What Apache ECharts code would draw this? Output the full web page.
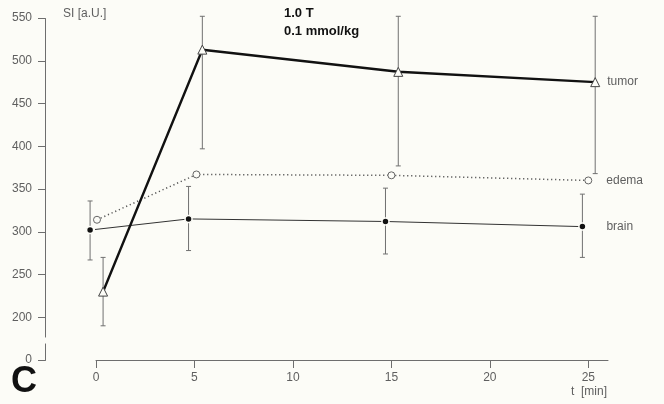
<!DOCTYPE html>
<html>
<head>
<meta charset="utf-8">
<script src="https://cdn.jsdelivr.net/npm/echarts@6/dist/echarts.min.js"></script>
<style>
html,body{margin:0;padding:0;background:#fcfcf7;}
#c{width:664px;height:404px;}
</style>
</head>
<body>
<div id="c"></div>
<script>
// ---- data ----
const xTicks = [0, 5, 10, 15, 20, 25];
const yTicks = [0, 200, 250, 300, 350, 400, 450, 500, 550];

// tumor (open triangles)
const tumorT   = [0.36, 5.4, 15.35, 25.35];
const tumorSI  = [230, 513, 487, 475];
const tumorLo  = [190, 397, 377, 368];
const tumorHi  = [270, 552, 552, 552];

// edema (open circles, dotted)
const edemaT   = [0.05, 5.1, 15.0, 25.0];
const edemaSI  = [314, 367, 366, 360];

// brain (filled dots)
const brainT   = [-0.3, 4.7, 14.7, 24.7];
const brainSI  = [302, 315, 312, 306];
const brainLo  = [267, 278, 274, 270];
const brainHi  = [336, 353, 351, 344];

const seriesNames = ['tumor', 'edema', 'brain'];

// ---- build ----
const zip = (a, b) => a.map((v, i) => [v, b[i]]);
const errData = tumorT.map((t, i) => [t, tumorLo[i], tumorHi[i]])
  .concat(brainT.map((t, i) => [t, brainLo[i], brainHi[i]]));

const gray = '#6e6e6e';
const txt = '#5f5f5f';
const bg = '#fcfcf7';
const FF = 'Liberation Sans, Arial, sans-serif';
const yBreaks = [{ start: 20, end: 177, gap: 7 }];

const chart = echarts.init(document.getElementById('c'));
chart.setOption({
  backgroundColor: bg,
  animation: false,
  grid: [
    { left: 45, right: 56, top: 18, bottom: 44 },
    { left: 96, right: 56, top: 18, bottom: 44 }
  ],
  xAxis: [
    { type: 'value', gridIndex: 0, min: 0, max: 26, show: false },
    {
      type: 'value', gridIndex: 1, min: 0, max: 26,
      axisLine: { show: true, lineStyle: { color: gray, width: 1 } },
      axisTick: { show: true, length: 8, lineStyle: { color: gray }, customValues: xTicks },
      axisLabel: { color: txt, fontSize: 12, fontFamily: FF, margin: 12, customValues: xTicks },
      splitLine: { show: false }
    }
  ],
  yAxis: [
    {
      type: 'value', gridIndex: 0, min: 0, max: 550, interval: 50,
      breaks: yBreaks,
      breakArea: { show: true, zigzagAmplitude: 0, itemStyle: { color: bg, borderColor: 'rgba(0,0,0,0)', borderWidth: 0, opacity: 1 } },
      axisLine: { show: true, lineStyle: { color: gray, width: 1 } },
      axisTick: { show: true, length: 7, lineStyle: { color: gray }, customValues: yTicks },
      axisLabel: { color: txt, fontSize: 12, fontFamily: FF, margin: 13, customValues: yTicks,
        formatter: v => (yTicks.indexOf(v) >= 0 ? String(v) : '') },
      splitLine: { show: false }
    },
    {
      type: 'value', gridIndex: 1, min: 0, max: 550, interval: 50,
      breaks: yBreaks,
      show: false,
      splitLine: { show: false }
    }
  ],
  graphic: [
    { type: 'text', left: 63, top: 8, style: { text: 'SI [a.U.]', fill: txt, font: '12px ' + FF } },
    { type: 'text', left: 284, top: 7, style: { text: '1.0 T', fill: '#111', font: 'bold 13px ' + FF } },
    { type: 'text', left: 284, top: 25, style: { text: '0.1 mmol/kg', fill: '#111', font: 'bold 13px ' + FF } },
    { type: 'text', left: 571, top: 386, style: { text: 't  [min]', fill: txt, font: '12px ' + FF } },
    { type: 'text', left: 11, top: 364, style: { text: 'C', fill: '#111', font: 'bold 36px ' + FF } }
  ],
  series: [
    {
      type: 'custom', name: 'err', clip: false, z: 1, xAxisIndex: 1, yAxisIndex: 1,
      data: errData,
      renderItem: (params, api) => {
        const x = api.value(0);
        const p1 = api.coord([x, api.value(2)]);
        const p2 = api.coord([x, api.value(1)]);
        const w = 2.5;
        const st = { stroke: '#707070', lineWidth: 1 };
        return { type: 'group', children: [
          { type: 'line', shape: { x1: p1[0], y1: p1[1], x2: p2[0], y2: p2[1] }, style: st },
          { type: 'line', shape: { x1: p1[0] - w, y1: p1[1], x2: p1[0] + w, y2: p1[1] }, style: st },
          { type: 'line', shape: { x1: p2[0] - w, y1: p2[1], x2: p2[0] + w, y2: p2[1] }, style: st }
        ] };
      }
    },
    {
      name: seriesNames[0], type: 'line', clip: false, z: 3, xAxisIndex: 1, yAxisIndex: 1,
      data: zip(tumorT, tumorSI),
      symbol: 'triangle', symbolSize: 9,
      itemStyle: { color: bg, borderColor: '#444', borderWidth: 1 },
      lineStyle: { color: '#111', width: 2.5 },
      endLabel: { show: true, formatter: seriesNames[0], distance: 12, color: txt, fontSize: 12, fontFamily: FF }
    },
    {
      name: seriesNames[1], type: 'line', clip: false, z: 2, xAxisIndex: 1, yAxisIndex: 1,
      data: zip(edemaT, edemaSI),
      symbol: 'circle', symbolSize: 7,
      itemStyle: { color: bg, borderColor: '#666', borderWidth: 1 },
      lineStyle: { color: '#555', width: 1.5, type: [1.2, 2.8] },
      endLabel: { show: true, formatter: seriesNames[1], distance: 18, color: txt, fontSize: 12, fontFamily: FF }
    },
    {
      name: seriesNames[2], type: 'line', clip: false, z: 2, xAxisIndex: 1, yAxisIndex: 1,
      data: zip(brainT, brainSI),
      symbol: 'circle', symbolSize: 7,
      itemStyle: { color: '#111', borderColor: bg, borderWidth: 1.5 },
      lineStyle: { color: '#333', width: 1 },
      endLabel: { show: true, formatter: seriesNames[2], distance: 24, color: txt, fontSize: 12, fontFamily: FF }
    }
  ]
});
</script>
</body>
</html>
